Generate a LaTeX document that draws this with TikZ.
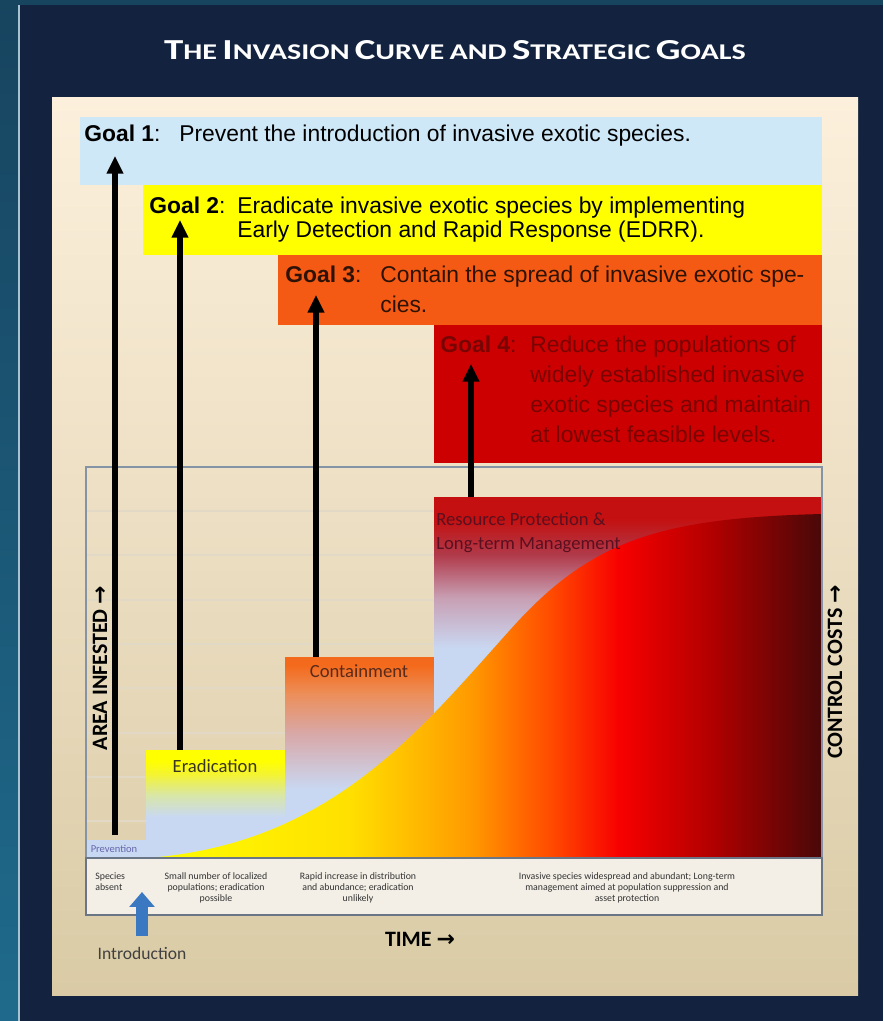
\documentclass[tikz,border=0pt]{standalone}
\usepackage{fontspec}
\setmainfont{Liberation Sans}
\newfontfamily\calfont{Carlito}
\newfontfamily\titlefont[FakeStretch=1.34]{Carlito}
\newfontfamily\arrowfont{DejaVu Sans}
\usepackage{tikz}
\usetikzlibrary{
        arrows.meta,
        positioning,
        shapes
    }

\definecolor{navy}{HTML}{13233F}
\definecolor{stripteal}{HTML}{1F6A8C}
\definecolor{stripdark}{HTML}{17445F}
\definecolor{paneltop}{HTML}{FCF0DC}
\definecolor{panelbot}{HTML}{DACBA6}
\definecolor{goalblue}{HTML}{CFE8F8}
\definecolor{goalyellow}{HTML}{FFFF00}
\definecolor{goalorange}{HTML}{F45A14}
\definecolor{goalred}{HTML}{CC0000}
\definecolor{paleblue}{HTML}{C9D8F2}
\definecolor{gridline}{HTML}{E2D8C6}
\definecolor{framecol}{HTML}{8494A6}
\definecolor{bandfill}{HTML}{F3EFE6}
\definecolor{introblue}{HTML}{3B78C2}
\definecolor{eradmid}{HTML}{D8E6A8}
\definecolor{eradhi}{HTML}{F4F430}
\definecolor{conttop}{HTML}{F46A1C}
\definecolor{contmid}{HTML}{EC8E58}
\definecolor{contlow}{HTML}{D8A8A8}
\definecolor{restop}{HTML}{C41010}
\definecolor{resmid}{HTML}{B03A4A}
\definecolor{reslow}{HTML}{C8A0B4}
\definecolor{cyellow}{HTML}{FFFF00}
\definecolor{cgold}{HTML}{FFE000}
\definecolor{corange}{HTML}{FF9A00}
\definecolor{credor}{HTML}{FF4A00}
\definecolor{cred}{HTML}{F80000}
\definecolor{cdark}{HTML}{B00000}
\definecolor{cdeep}{HTML}{480808}
\definecolor{goalfour}{HTML}{780404}
\definecolor{goalthree}{HTML}{2E1206}
\definecolor{eradtext}{HTML}{3A3520}
\definecolor{conttext}{HTML}{5A2A1A}
\definecolor{restext}{HTML}{5A1020}

\pgfdeclareverticalshading{eradshade}{100bp}{color(0bp)=(paleblue); color(44bp)=(paleblue); color(54bp)=(eradmid); color(64bp)=(eradhi); color(70bp)=(goalyellow); color(100bp)=(goalyellow)}
\pgfdeclareverticalshading{contshade}{100bp}{color(0bp)=(paleblue); color(42bp)=(paleblue); color(56bp)=(contlow); color(66bp)=(contmid); color(73bp)=(conttop); color(100bp)=(conttop)}
\pgfdeclareverticalshading{resshade}{100bp}{color(0bp)=(paleblue); color(54bp)=(paleblue); color(61bp)=(reslow); color(67bp)=(resmid); color(72bp)=(restop); color(100bp)=(restop)}
\pgfdeclarehorizontalshading{curveshade}{100bp}{color(0bp)=(cyellow); color(25bp)=(cyellow); color(40bp)=(cgold); color(49bp)=(corange); color(55bp)=(credor); color(60bp)=(cred); color(67bp)=(cdark); color(75bp)=(cdeep); color(100bp)=(cdeep)}

\tikzset{x=0.02cm,y=-0.02cm}
\tikzset{goalarrow/.style={line width=3.4pt,-{Triangle[width=9pt,length=10pt]}},
         introarrow/.style={line width=6.8pt,introblue,-{Triangle[width=14pt,length=8.5pt]}},
         goalhead/.style={anchor=base west,inner sep=0pt,font=\fontsize{13}{13.6}\selectfont\bfseries},
         goaltext/.style={anchor=base west,inner sep=0pt,align=left,font=\fontsize{13}{13.6}\selectfont},
         stagelabel/.style={inner sep=0pt,font=\calfont\fontsize{10.6}{13.6}\selectfont},
         axislabel/.style={inner sep=0pt,font=\calfont\bfseries\fontsize{12.5}{14}\selectfont},
         bandtext/.style={inner sep=0pt,align=center,text=black!80,font=\calfont\fontsize{5.6}{6.2}\selectfont},
         titletext/.style={inner sep=0pt,text=white,font=\titlefont\bfseries}}
\newcommand{\capword}[2]{{\fontsize{16.5}{18}\selectfont #1}{\fontsize{12.8}{18}\selectfont #2}}

\begin{document}
\begin{tikzpicture}
                \useasboundingbox (0,0) rectangle (883,1021);
                % background and panel
                \fill[navy] (0,0) rectangle (883,1021);
                \shade[top color=stripdark,bottom color=stripteal] (0,0) rectangle (18,1021);
                \fill[stripdark] (18,0) rectangle (883,5);
                \draw[white!60!stripteal,line width=0.6pt] (19,5) -- (19,1021);
                \shade[top color=paneltop,bottom color=panelbot] (52,97) rectangle (858,995);
                \node[titletext] (title) at (455,50) {\capword{T}{HE} \capword{I}{NVASION} \capword{C}{URVE} {\fontsize{12.8}{18}\selectfont AND} \capword{S}{TRATEGIC} \capword{G}{OALS}};

                % goal bands
                \fill[goalblue] (80,117) rectangle (822,185);
                \fill[goalyellow] (143,185) rectangle (822,255);
                \fill[goalorange] (278,255) rectangle (822,325);
                \fill[goalred] (434,325) rectangle (822,463);

                % chart
                \foreach \gy in {511,555,600,644,688,733,777,821}
                    \draw[gridline,line width=0.6pt] (86,\gy) -- (822,\gy);
                \fill[paleblue] (86,840) rectangle (146,858);
                \shade[shading=eradshade] (146,750) rectangle (285,858);
                \shade[shading=contshade] (285,657) rectangle (434,858);
                \shade[shading=resshade] (434,497) rectangle (822,858);
                \shade[shading=curveshade] (146,858) .. controls (330,845) and (420,730) .. (510,630)
                    .. controls (590,540) and (660,518) .. (822,514) -- (822,858) -- cycle;
                \draw[framecol,line width=0.6pt] (86,467) rectangle (822,858);
                \filldraw[fill=bandfill,draw=framecol!80!black,line width=0.7pt] (86,858) rectangle (822,915);

                % goal texts (multi-line nodes sit on their last baseline)
                \node[goalhead] (g1) at (84,141) {Goal 1\textmd{:}};
                \node[goaltext] (g1t) at (179,141) {Prevent the introduction of invasive exotic species.};
                \node[goalhead] (g2) at (149,213) {Goal 2\textmd{:}};
                \node[goaltext] (g2t) at (237,237) {Eradicate invasive exotic species by implementing\\Early Detection and Rapid Response (EDRR).};
                \node[goalhead,text=goalthree] (g3) at (285,282) {Goal 3\textmd{:}};
                \node[goaltext,text=goalthree,font=\fontsize{13}{17}\selectfont] (g3t) at (380,312) {Contain the spread of invasive exotic spe-\\cies.};
                \node[goalhead,text=goalfour] (g4) at (440,352) {Goal 4\textmd{:}};
                \node[goaltext,text=goalfour,font=\fontsize{13}{17}\selectfont] (g4t) at (530,442) {Reduce the populations of\\widely established invasive\\exotic species and maintain\\at lowest feasible levels.};

                % stage labels
                \node[stagelabel,text=eradtext] (eradlbl) at (215,766) {Eradication};
                \node[stagelabel,text=conttext] (contlbl) at (359,671) {Containment};
                \node[stagelabel,text=restext,anchor=west,align=left] (reslbl) at (436,533) {Resource Protection \&\\Long-term Management};
                \node[stagelabel,text=black!55!blue!60,font=\calfont\fontsize{6}{7}\selectfont] (prevlbl) at (114,849) {Prevention};
                \node[axislabel,rotate=90] (arealbl) at (100,668) {AREA INFESTED {\arrowfont\bfseries →}};
                \node[axislabel,rotate=90] (costlbl) at (835,672) {CONTROL COSTS {\arrowfont\bfseries →}};
                \node[axislabel] (timelbl) at (420,939) {TIME {\arrowfont\bfseries →}};
                \node[stagelabel,text=black!75,font=\calfont\fontsize{10}{12}\selectfont] (intro) at (142,953) {Introduction};

                % phase descriptions
                \node[bandtext,align=left,anchor=west] (absent) at (95,882) {Species\\absent};
                \node[bandtext] (small) at (216,888) {Small number of localized\\populations; eradication\\possible};
                \node[bandtext] (rapid) at (358,888) {Rapid increase in distribution\\and abundance; eradication\\unlikely};
                \node[bandtext] (wide) at (627,888) {Invasive species widespread and abundant; Long-term\\management aimed at population suppression and\\asset protection};

                % arrows
                \coordinate (prevtop) at (115,835);
                \coordinate (eradtop) at (180,750);
                \coordinate (conttop) at (316,657);
                \coordinate (restop) at (471,497);
                \coordinate (g1tip) at (115,156);
                \coordinate (g2tip) at (180,220);
                \coordinate (g3tip) at (316,295);
                \coordinate (g4tip) at (471,364);
                \coordinate (introtail) at (142,936);
                \coordinate (introtip) at (142,892);
                \path[goalarrow]
                    (prevtop) edge (g1tip)
                    (eradtop) edge (g2tip)
                    (conttop) edge (g3tip)
                    (restop)  edge (g4tip)
                    ;
                \path[introarrow] (introtail) edge (introtip);
            \end{tikzpicture}
\end{document}
